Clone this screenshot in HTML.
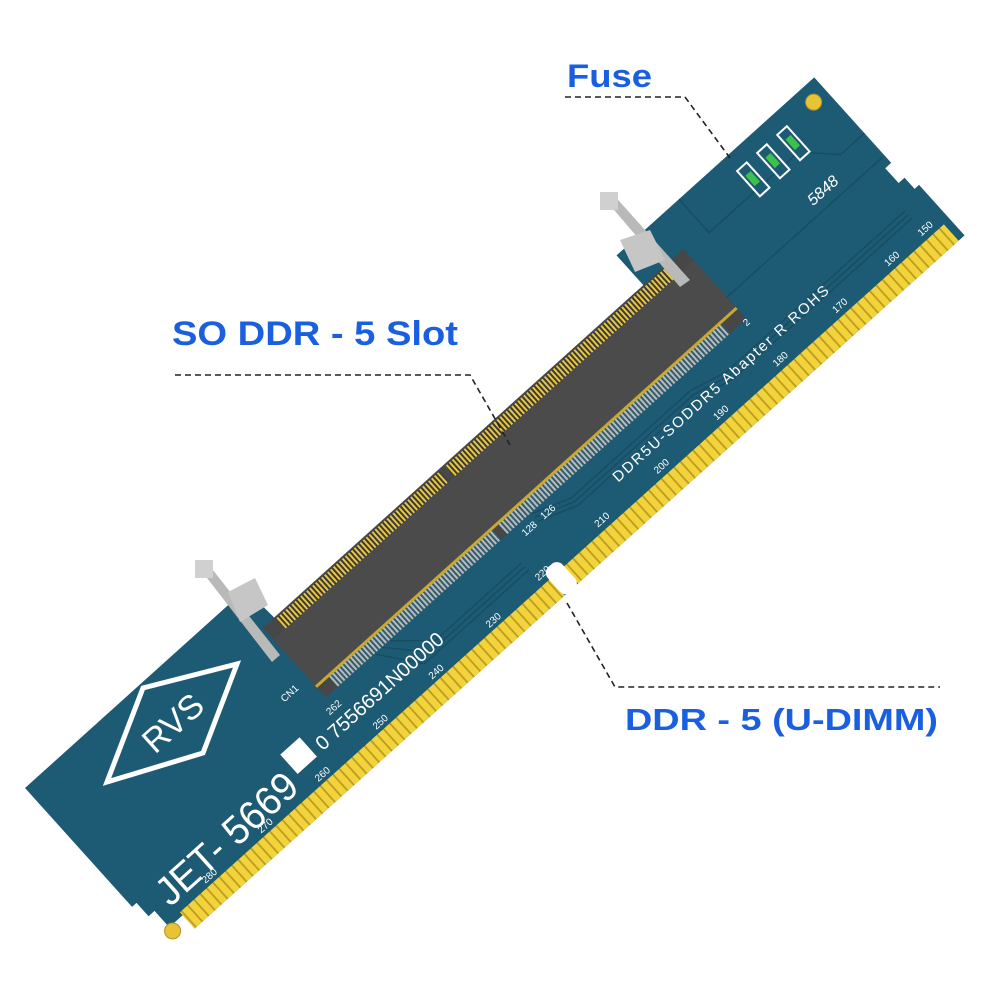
<!DOCTYPE html>
<html><head><meta charset="utf-8"><style>
html,body{margin:0;padding:0;background:#fff;width:1000px;height:1000px;overflow:hidden}
svg{display:block}
.lbl{font-family:"Liberation Sans",sans-serif;font-weight:bold;fill:#1a5fe0}
.w{font-family:"Liberation Sans",sans-serif;fill:#fff}
</style></head><body>
<svg width="1000" height="1000" viewBox="0 0 1000 1000">
<defs>
<pattern id="gold" patternUnits="userSpaceOnUse" width="8.5" height="30"><rect width="8.5" height="30" fill="#b8981e"/><rect x="0.8" width="6.8" height="30" fill="#f3d33c"/></pattern>
<pattern id="gp" patternUnits="userSpaceOnUse" width="4" height="20"><rect width="4" height="20" fill="#3a3a3a"/><rect x="0.5" width="2" height="20" fill="#e8c640"/></pattern>
<pattern id="sp" patternUnits="userSpaceOnUse" width="4" height="20"><rect width="4" height="20" fill="#2f5d70"/><rect x="0.5" width="2" height="20" fill="#bbbbbb"/></pattern>
</defs>

<g transform="translate(25,788) rotate(-42)">
  <path d="M0,0 H297 L300,55 H796 V0 H1062 V115 H1054 V135 H1062 V150 H1068 V218 H32 V200 H14 V178 H6 V160 H0 Z" fill="#1d5a73"/>
  <g stroke="#174b61" stroke-width="1.2" fill="none">
    <path d="M560,135 L600,150 H760 L800,160 H1040"/>
    <path d="M560,140 L600,155 H760 L800,165 H1040"/>
    <path d="M560,145 L600,160 H760 L800,170 H1040"/>
    <path d="M350,135 L380,175 H520"/>
    <path d="M360,135 L392,170 H520"/>
    <path d="M370,135 L404,165 H520"/>
    <path d="M810,55 V105 H1060"/>
    <path d="M880,0 V45 H1000 L1030,75 H1062"/>
  </g>
  <rect x="284" y="40" width="566" height="94" fill="#474747"/>
  <rect x="300" y="42" width="220" height="14" fill="url(#gp)"/>
  <rect x="528" y="42" width="300" height="14" fill="url(#gp)"/>
  <rect x="300" y="120" width="220" height="14" fill="url(#sp)"/>
  <rect x="528" y="120" width="300" height="14" fill="url(#sp)"/>
  <rect x="284" y="56" width="566" height="64" fill="#4b4b4b"/>
  <rect x="284" y="118" width="566" height="3" fill="#c8a830"/>
  <rect x="32" y="196" width="498" height="22" fill="url(#gold)"/>
  <rect x="548" y="196" width="512" height="22" fill="url(#gold)"/>
  <rect x="529" y="186" width="20" height="34" rx="8" fill="#fff"/>
  <g class="w" font-size="10">
    <text x="70" y="192">280</text><text x="145" y="192">270</text><text x="222" y="192">260</text>
    <text x="300" y="192">250</text><text x="375" y="192">240</text><text x="452" y="192">230</text>
    <text x="520" y="190">220</text><text x="600" y="190">210</text><text x="680" y="190">200</text>
    <text x="760" y="190">190</text><text x="840" y="190">180</text><text x="920" y="190">170</text>
    <text x="990" y="190">160</text><text x="1035" y="190">150</text>
    <text x="275" y="150">262</text><text x="250" y="110">CN1</text>
    <text x="520" y="35">127</text><text x="543" y="35">125</text>
    <text x="540" y="148">128</text><text x="565" y="148">126</text><text x="845" y="140">2</text>
    <text x="20" y="212">P1</text>
  </g>
  <text class="w" x="28" y="186" font-size="40" textLength="176" lengthAdjust="spacingAndGlyphs">JET- 5669</text>
  <rect x="212" y="146" width="26" height="26" fill="#fff"/>
  <text class="w" x="246" y="172" font-size="20">0 7556691N00000</text>
  <text class="w" x="645" y="170" font-size="15" textLength="285" lengthAdjust="spacing">DDR5U-SODDR5  Abapter  R   ROHS</text>
  <text class="w" x="975" y="95" font-size="16" font-style="italic">5848</text>
  <circle cx="14" cy="205" r="8" fill="#e6c436" stroke="#b39320"/>
  <circle cx="1045" cy="18" r="8" fill="#e6c436" stroke="#b39320"/>
  <g stroke="#fff" stroke-width="2" fill="#1d5a73">
    <rect x="942" y="18" width="13" height="34"/><rect x="969" y="18" width="13" height="34"/><rect x="996" y="18" width="13" height="34"/>
  </g>
  <g fill="#3cc24a"><rect x="945" y="27" width="7" height="14"/><rect x="972" y="27" width="7" height="14"/><rect x="999" y="27" width="7" height="14"/></g>
</g>

<polygon points="107,782 143,688 237,664 203,753" fill="none" stroke="#fff" stroke-width="5"/>
<text class="w" x="172" y="735" font-size="34" text-anchor="middle" transform="rotate(-42 172 722)">RVS</text>

<g>
  <polygon points="197,565 205,560 280,655 272,662" fill="#b9b9b9"/>
  <rect x="195" y="560" width="18" height="18" fill="#d0d0d0"/>
  <polygon points="228,592 255,578 268,605 240,622" fill="#c6c6c6"/>
  <polygon points="603,197 611,192 690,280 680,287" fill="#b9b9b9"/>
  <rect x="600" y="192" width="18" height="18" fill="#d0d0d0"/>
  <polygon points="620,240 650,230 665,260 635,272" fill="#c6c6c6"/>
</g>

<g stroke="#222" stroke-width="1.6" stroke-dasharray="6,4" fill="none">
  <polyline points="565,97 685,97 730,158"/>
  <polyline points="175,375 470,375 510,445"/>
  <polyline points="567,603 615,687 940,687"/>
</g>
<text class="lbl" x="567" y="87" font-size="32" textLength="85" lengthAdjust="spacingAndGlyphs">Fuse</text>
<text class="lbl" x="172" y="345" font-size="34" textLength="286" lengthAdjust="spacingAndGlyphs">SO DDR - 5  Slot</text>
<text class="lbl" x="625" y="730" font-size="31" textLength="313" lengthAdjust="spacingAndGlyphs">DDR - 5 (U-DIMM)</text>
</svg>
</body></html>
